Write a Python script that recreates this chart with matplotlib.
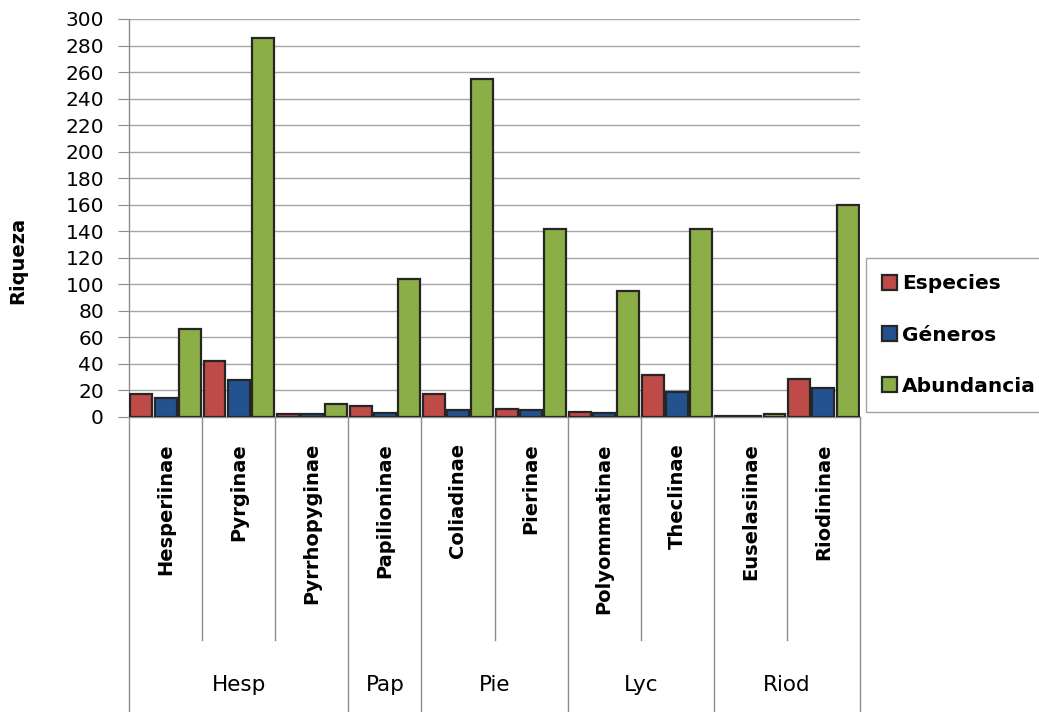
import numpy as np
import matplotlib.pyplot as plt
from matplotlib.lines import Line2D
from matplotlib.patches import Patch
import matplotlib.transforms as mtransforms

# Data
subfamilies = ["Hesperiinae", "Pyrginae", "Pyrrhopyginae", "Papilioninae", "Coliadinae",
               "Pierinae", "Polyommatinae", "Theclinae", "Euselasiinae", "Riodininae"]
families = ["Hesp", "Pap", "Pie", "Lyc", "Riod"]
family_sizes = [3, 1, 2, 2, 2]
especies = [17, 42, 2, 8, 17, 6, 4, 32, 1, 29]
generos = [14, 28, 2, 3, 5, 5, 3, 19, 1, 22]
abundancia = [66, 286, 10, 104, 255, 142, 95, 142, 2, 160]

series_names = ["Especies", "Géneros", "Abundancia"]
colors = ["#BE4B48", "#23538F", "#8BAE46"]

W, H = 1039, 712
fig = plt.figure(figsize=(W / 100, H / 100), dpi=100)
ax = fig.add_axes([129 / W, 1 - 417 / H, (860 - 129) / W, (417 - 19) / H])

x = np.arange(len(subfamilies))
step = 0.33
width = 0.30
for i, vals in enumerate([especies, generos, abundancia]):
    ax.bar(x + (i - 1) * step, vals, width, color=colors[i], edgecolor="#262626",
           linewidth=1.6, label=series_names[i], zorder=3)

ax.set_xlim(-0.5, len(subfamilies) - 0.5)
ax.set_ylim(0, 300)
ax.set_yticks(np.arange(0, 301, 20))
ax.tick_params(axis="y", length=8, color="#8c8c8c", labelsize=14.5, pad=10)
ax.set_xticks([])
ax.yaxis.grid(True, color="#a6a6a6", linewidth=1, zorder=0)
for s in ["top", "right"]:
    ax.spines[s].set_visible(False)
for s in ["left", "bottom"]:
    ax.spines[s].set_color("#8c8c8c")
    ax.spines[s].set_linewidth(1)

fig.text(18 / W, 1 - 260 / H, "Riqueza", rotation=90, ha="center", va="center",
         fontsize=14, fontweight="bold")

# category / group labels under the axis
trans = mtransforms.blended_transform_factory(ax.transData, fig.transFigure)
for i, name in enumerate(subfamilies):
    ax.text(i, 1 - 443 / H, name, rotation=90, ha="center", va="top", fontsize=14,
            fontweight="bold", transform=trans, clip_on=False)

bounds = np.cumsum([0] + family_sizes)
for k in range(len(subfamilies) + 1):
    xb = k - 0.5
    bottom = 0 if k in bounds else 1 - 640 / H
    ax.add_line(Line2D([xb, xb], [1 - 417 / H, bottom], transform=trans, color="#8c8c8c",
                       linewidth=1, clip_on=False))
for j, fam in enumerate(families):
    xc = (bounds[j] + bounds[j + 1] - 1) / 2
    ax.text(xc, 1 - 685 / H, fam, ha="center", va="center", fontsize=15.5, transform=trans,
            clip_on=False)

handles = [Patch(facecolor=c, edgecolor="#262626", linewidth=1.6) for c in colors]
leg = fig.legend(handles, series_names, loc="center left", bbox_to_anchor=(866 / W, 1 - 335 / H),
                 frameon=True, fancybox=False, edgecolor="#8c8c8c", fontsize=14.5,
                 handlelength=0.75, handleheight=0.75, handletextpad=0.25, labelspacing=1.6,
                 borderpad=0.8, borderaxespad=0)
leg.get_frame().set_linewidth(1)
for t in leg.get_texts():
    t.set_fontweight("bold")

fig.savefig("out.png", dpi=100)
